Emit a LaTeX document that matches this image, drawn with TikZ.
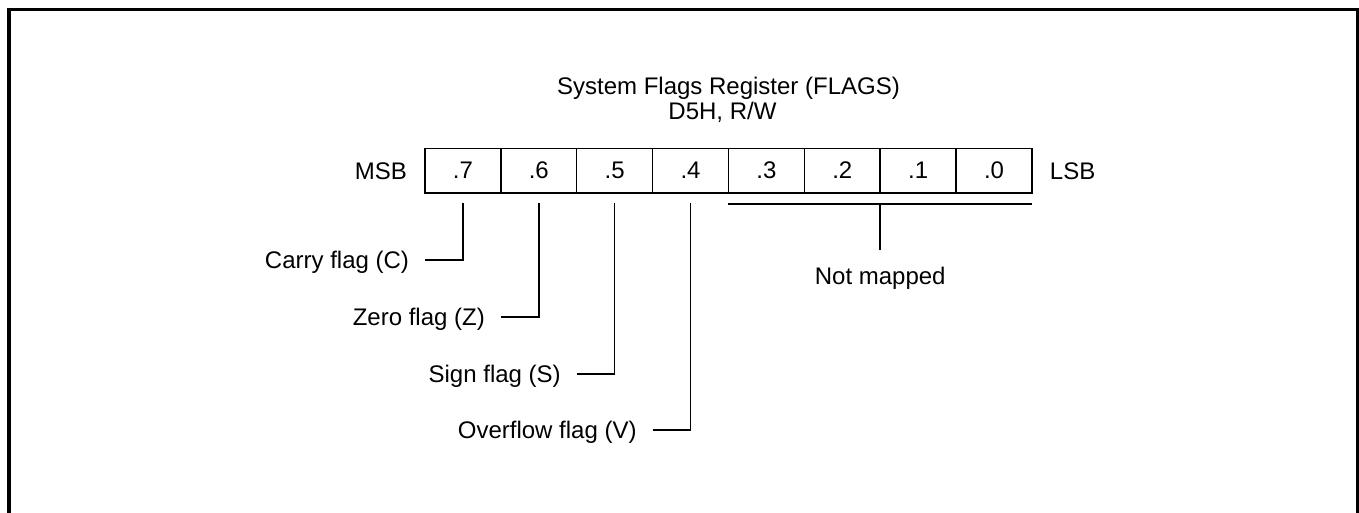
\documentclass[tikz,border=0pt]{standalone}
\usepackage{fontspec}
\setmainfont{Liberation Sans}
\usetikzlibrary{positioning}

\tikzset{
  lbl/.style={inner sep=0pt, outer sep=0pt, text height=17.2pt, text depth=0pt,
    font=\fontsize{24}{28}\selectfont},
  flaglbl/.style={lbl, inner xsep=16pt},
  bitcell/.style={draw, line width=1.5pt, inner sep=0pt, outer sep=0pt,
    minimum width=75.875pt, minimum height=44.5pt, font=\fontsize{24}{28}\selectfont},
  wire/.style={line width=1.5pt}
}

\begin{document}
\begin{tikzpicture}[x=1pt,y=1pt]
\useasboundingbox (0,0) rectangle (1359,-512);
\draw[line width=3.5pt] (9,-514) -- (9,-9.5) -- (1357.5,-9.5) -- (1357.5,-514);

\node[bitcell] (b7) at (462.9,-170.5) {.7};
\foreach \i [evaluate=\i as \j using int(\i+1)] in {6,...,0}
  \node[bitcell, right=0pt of b\j] (b\i) {.\i};

\node[lbl, left=18pt of b7] (msb) {MSB};
\node[lbl, right=18pt of b0] (lsb) {LSB};

\node[lbl, anchor=base] (title) at ([yshift=54pt]b3.north west) {System Flags Register (FLAGS)};
\node[lbl, anchor=base] (regaddr) at ([xshift=-6pt,yshift=-25pt]title.base) {D5H, R/W};

\node[flaglbl, anchor=east] (carry) at ([yshift=-67pt]b7.south west) {Carry flag (C)};
\node[flaglbl, anchor=east] (zero) at ([yshift=-124pt]b6.south west) {Zero flag (Z)};
\node[flaglbl, anchor=east] (sign) at ([yshift=-181pt]b5.south west) {Sign flag (S)};
\node[flaglbl, anchor=east] (overflow) at ([yshift=-237pt]b4.south west) {Overflow flag (V)};

\draw[wire] (b7.south) ++(0,-10) |- (carry);
\draw[wire] (b6.south) ++(0,-10) |- (zero);
\draw[wire] (b5.south) ++(0,-10) |- (sign);
\draw[wire] (b4.south) ++(0,-10) |- (overflow);

\coordinate (nmleft) at ([yshift=-11pt]b3.south west);
\coordinate (nmright) at ([yshift=-11pt]b0.south east);
\node[lbl, anchor=north] (notmapped) at ([yshift=-75pt]b1.south west) {Not mapped};
\draw[wire] (nmleft) -- (nmright);
\draw[wire] (nmleft -| notmapped.north) -- ([yshift=18pt]notmapped.north);
\end{tikzpicture}
\end{document}
